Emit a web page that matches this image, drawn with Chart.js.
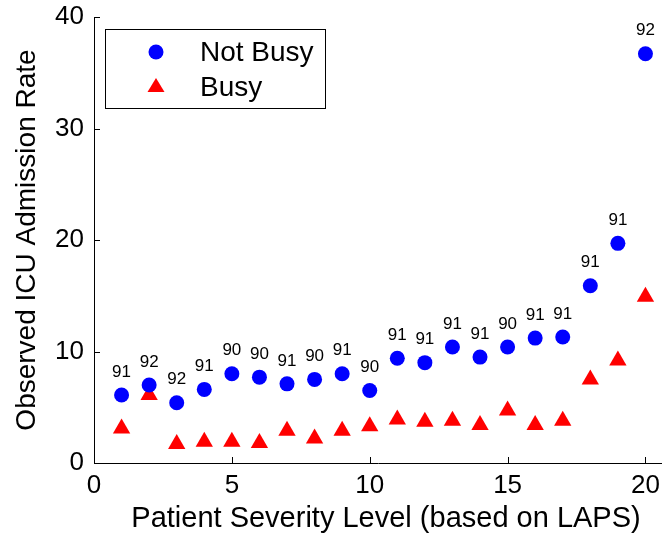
<!DOCTYPE html>
<html>
<head>
<meta charset="utf-8">
<script src="https://cdn.jsdelivr.net/npm/chart.js@4.4.0/dist/chart.umd.min.js"></script>
<style>
  html, body { margin: 0; padding: 0; background: #fff; }
  #wrap { width: 662px; height: 537px; }
</style>
</head>
<body>
<div id="wrap"><canvas id="myChart" width="662" height="537"></canvas></div>
<script>
var severity = [1, 2, 3, 4, 5, 6, 7, 8, 9, 10, 11, 12, 13, 14, 15, 16, 17, 18, 19, 20];
var notBusy = [6.1, 7.0, 5.4, 6.6, 8.0, 7.7, 7.1, 7.5, 8.0, 6.5, 9.4, 9.0, 10.4, 9.5, 10.4, 11.2, 11.3, 15.9, 19.7, 36.7];
var busy = [3.1, 6.1, 1.7, 1.9, 1.9, 1.8, 2.9, 2.2, 2.9, 3.3, 3.9, 3.7, 3.8, 3.4, 4.7, 3.4, 3.8, 7.5, 9.2, 14.9];
var pctLabels = ['91', '92', '92', '91', '90', '90', '91', '90', '91', '90', '91', '91', '91', '91', '90', '91', '91', '91', '91', '92'];
var xTicks = [0, 5, 10, 15, 20];
var yTicks = [0, 10, 20, 30, 40];

var FONT = '"Liberation Sans", Arial, sans-serif';
var xTitle = 'Patient Severity Level (based on LAPS)';

function toPoints(xs, ys) {
    return xs.map(function (x, i) { return { x: x, y: ys[i] }; });
}

var extras = {
    id: 'extras',
    afterDatasetsDraw: function (chart) {
        var c = chart.ctx;
        var area = chart.chartArea;
        var xs = chart.scales.x, ys = chart.scales.y;
        c.save();
        // inward tick marks
        c.strokeStyle = '#000';
        c.lineWidth = 1;
        c.beginPath();
        xTicks.forEach(function (v) {
            var px = Math.round(xs.getPixelForValue(v)) + 0.5;
            c.moveTo(px, area.bottom);
            c.lineTo(px, area.bottom - 6);
        });
        yTicks.forEach(function (v) {
            var py = Math.round(ys.getPixelForValue(v)) + 0.5;
            c.moveTo(area.left, py);
            c.lineTo(area.left + 6, py);
        });
        c.stroke();

        // labels over the Not Busy points
        var meta = chart.getDatasetMeta(0);
        c.fillStyle = '#000';
        c.font = '17px ' + FONT;
        c.textAlign = 'center';
        c.textBaseline = 'middle';
        meta.data.forEach(function (pt, i) {
            c.fillText(pctLabels[i], pt.x, pt.y - 23);
        });

        // x title
        c.font = '29px ' + FONT;
        c.textBaseline = 'alphabetic';
        c.fillText(xTitle, 386, 527);

        // legend box
        var lx = 105, ly = 29, lw = 220, lh = 79;
        c.fillStyle = '#fff';
        c.fillRect(lx, ly, lw, lh);
        c.strokeStyle = '#000';
        c.strokeRect(lx + 0.5, ly + 0.5, lw, lh);
        c.fillStyle = 'rgb(0,0,255)';
        c.beginPath();
        c.arc(156, 52, 7.5, 0, Math.PI * 2);
        c.fill();
        c.fillStyle = 'rgb(255,0,0)';
        c.beginPath();
        c.moveTo(156, 78);
        c.lineTo(164.5, 92);
        c.lineTo(147.5, 92);
        c.closePath();
        c.fill();
        c.fillStyle = '#000';
        c.font = '28px ' + FONT;
        c.textAlign = 'left';
        c.textBaseline = 'middle';
        c.fillText('Not Busy', 200, 53);
        c.fillText('Busy', 200, 88);
        c.restore();
    }
};

var ctx = document.getElementById('myChart').getContext('2d');
var myChart = new Chart(ctx, {
    type: 'scatter',
    data: {
        datasets: [{
            label: 'Not Busy',
            data: toPoints(severity, notBusy),
            pointStyle: 'circle',
            pointRadius: 7.5,
            pointHoverRadius: 7.5,
            backgroundColor: 'rgb(0,0,255)',
            borderWidth: 0
        }, {
            label: 'Busy',
            data: toPoints(severity, busy),
            pointStyle: 'triangle',
            pointRadius: 10,
            pointHoverRadius: 10,
            backgroundColor: 'rgb(255,0,0)',
            borderWidth: 0
        }]
    },
    options: {
        responsive: false,
        animation: false,
        layout: { autoPadding: false, padding: { top: 17, right: 0, left: 0, bottom: 0 } },
        plugins: {
            legend: { display: false },
            tooltip: { enabled: false }
        },
        scales: {
            x: {
                type: 'linear',
                min: 0,
                max: 20.6,
                afterBuildTicks: function (s) { s.ticks = xTicks.map(function (v) { return { value: v }; }); },
                afterFit: function (s) { s.height = 74; s.paddingLeft = 0; s.paddingRight = 0; },
                grid: { display: false, drawTicks: false },
                border: { display: true, color: '#000', width: 1 },
                ticks: { color: '#000', padding: 7, font: { family: FONT, size: 26 }, maxRotation: 0 },
                title: { display: false }
            },
            y: {
                min: 0,
                max: 40,
                afterBuildTicks: function (s) { s.ticks = yTicks.map(function (v) { return { value: v }; }); },
                afterFit: function (s) { s.width = 94; s.paddingTop = 0; s.paddingBottom = 0; },
                grid: { display: false, drawTicks: false },
                border: { display: true, color: '#000', width: 1 },
                ticks: { color: '#000', padding: 10, font: { family: FONT, size: 26 } },
                title: { display: true, text: 'Observed ICU Admission Rate', color: '#000', padding: { top: 10, bottom: 0 }, font: { family: FONT, size: 28 } }
            }
        }
    },
    plugins: [extras]
});
</script>
</body>
</html>
